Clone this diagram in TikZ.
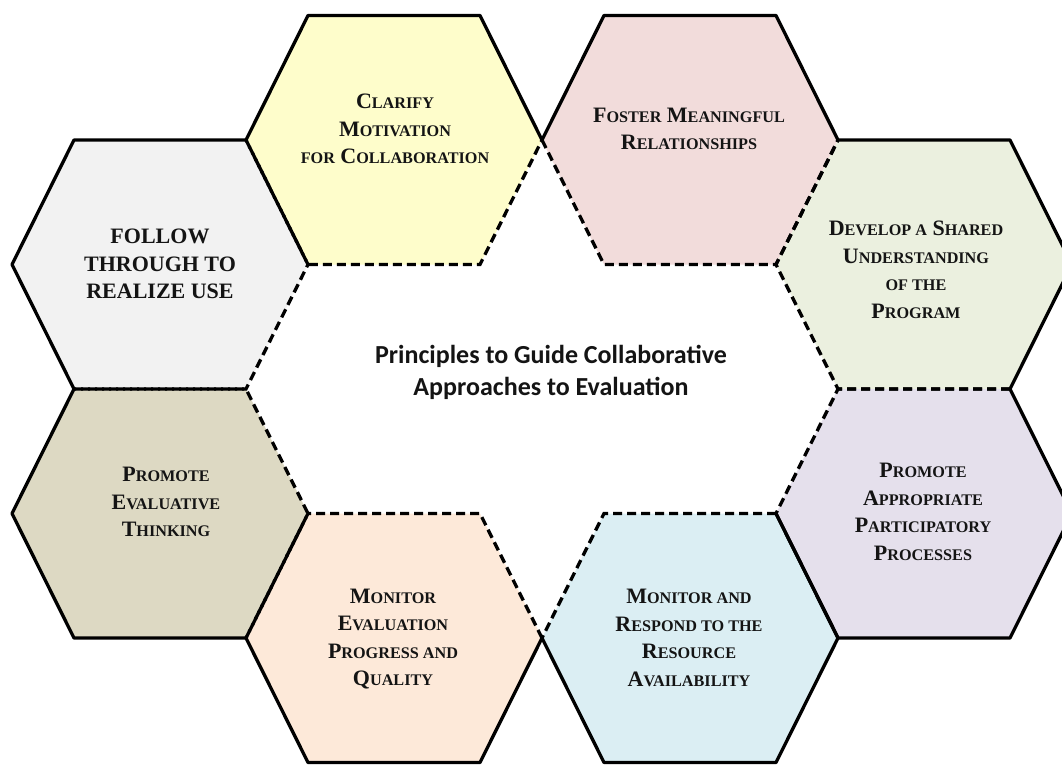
\documentclass[tikz,border=0pt]{standalone}
\usepackage{fontspec}
\setmainfont{Liberation Serif}
\newfontfamily\calib{Carlito}
\newcommand\sm[1]{{\fontsize{16.2}{27.5}\selectfont #1}}
\newcommand\hexpts[3]{%
  \coordinate (#1-0) at (#2+148,#3);
  \coordinate (#1-1) at (#2+86,#3-124.5);
  \coordinate (#1-2) at (#2-86,#3-124.5);
  \coordinate (#1-3) at (#2-148,#3);
  \coordinate (#1-4) at (#2-86,#3+124.5);
  \coordinate (#1-5) at (#2+86,#3+124.5);
}
\newcommand\hexfill[2]{\fill[#2] (#1-0)--(#1-1)--(#1-2)--(#1-3)--(#1-4)--(#1-5)--cycle;}
\definecolor{cgray}{HTML}{F2F2F2}
\definecolor{cyellow}{HTML}{FEFDCB}
\definecolor{cpink}{HTML}{F2DCDB}
\definecolor{cgreen}{HTML}{EBF0DF}
\definecolor{colive}{HTML}{DDD9C3}
\definecolor{cpurple}{HTML}{E5E0EC}
\definecolor{cpeach}{HTML}{FDE9D9}
\definecolor{cblue}{HTML}{DBEEF3}
\begin{document}
\begin{tikzpicture}[x=1pt,y=-1pt,
  solidedge/.style={line width=3.3pt, line cap=round, line join=round},
  dashedge/.style={line width=3.3pt, dash pattern=on 9pt off 5pt},
  hexlabel/.style={align=center, font=\bfseries\fontsize{22}{27.5}\selectfont, text=black!92, inner sep=0pt}]
\useasboundingbox (0,0) rectangle (1062,765);
\clip (0,0) rectangle (1062,765);
\fill[white] (0,0) rectangle (1062,765);
% hexagon corner points
\hexpts{G}{160}{264.5}
\hexpts{Y}{394}{140}
\hexpts{P}{690}{140}
\hexpts{N}{924}{264.5}
\hexpts{O}{160}{513.5}
\hexpts{U}{924}{513.5}
\hexpts{E}{394}{638}
\hexpts{B}{690}{638}
% fills
\hexfill{G}{cgray}
\hexfill{Y}{cyellow}
\hexfill{P}{cpink}
\hexfill{N}{cgreen}
\hexfill{O}{colive}
\hexfill{U}{cpurple}
\hexfill{E}{cpeach}
\hexfill{B}{cblue}
% dashed (inner) edges
\draw[line width=1.2pt] (G-4)--(G-5);
\draw[dashedge] (G-4)--(G-5)--(G-0)--(G-1);
\draw[dashedge] (Y-3)--(Y-4)--(Y-5)--(Y-0);
\draw[dashedge] (P-3)--(P-4)--(P-5)--(P-0);
\draw[dashedge] (N-5)--(N-4)--(N-3)--(N-2);
\draw[dashedge] (O-5)--(O-0)--(O-1)--(O-2);
\draw[dashedge] (U-1)--(U-2)--(U-3);
\draw[dashedge] (E-0)--(E-1)--(E-2)--(E-3);
\draw[dashedge] (B-1)--(B-2)--(B-3);
% solid (outer) edges
\draw[solidedge] (G-1)--(G-2)--(G-3)--(G-4);
\draw[solidedge] (Y-0)--(Y-1)--(Y-2)--(Y-3);
\draw[solidedge] (P-0)--(P-1)--(P-2)--(P-3);
\draw[solidedge] (N-2)--(N-1)--(N-0)--(N-5);
\draw[solidedge] (O-2)--(O-3)--(O-4)--(O-5);
\draw[solidedge] (U-3)--(U-4)--(U-5)--(U-0)--(U-1);
\draw[solidedge] (E-3)--(E-4)--(E-5)--(E-0);
\draw[solidedge] (B-3)--(B-4)--(B-5)--(B-0)--(B-1);
% labels
\node[hexlabel] (follow) at (160,264) {FOLLOW\\THROUGH TO\\REALIZE USE};
\node[hexlabel] (clarify) at (395,129) {C\sm{LARIFY}\\M\sm{OTIVATION}\\\sm{FOR} C\sm{OLLABORATION}};
\node[hexlabel] (foster) at (689,129) {F\sm{OSTER} M\sm{EANINGFUL}\\R\sm{ELATIONSHIPS}};
\node[hexlabel] (develop) at (916,270) {D\sm{EVELOP A} S\sm{HARED}\\U\sm{NDERSTANDING}\\\sm{OF THE}\\P\sm{ROGRAM}};
\node[hexlabel] (evaluative) at (166,502) {P\sm{ROMOTE}\\E\sm{VALUATIVE}\\T\sm{HINKING}};
\node[hexlabel] (participatory) at (923,512) {P\sm{ROMOTE}\\A\sm{PPROPRIATE}\\P\sm{ARTICIPATORY}\\P\sm{ROCESSES}};
\node[hexlabel] (progress) at (393,639) {M\sm{ONITOR}\\E\sm{VALUATION}\\P\sm{ROGRESS AND}\\Q\sm{UALITY}};
\node[hexlabel] (resource) at (689,638) {M\sm{ONITOR AND}\\R\sm{ESPOND TO THE}\\R\sm{ESOURCE}\\A\sm{VAILABILITY}};
\node[align=center, font=\calib\bfseries\fontsize{26}{32}\selectfont, text=black!92, inner sep=0pt] (title) at (551,372) {Principles to Guide Collaborative\\Approaches to Evaluation};
\end{tikzpicture}
\end{document}
